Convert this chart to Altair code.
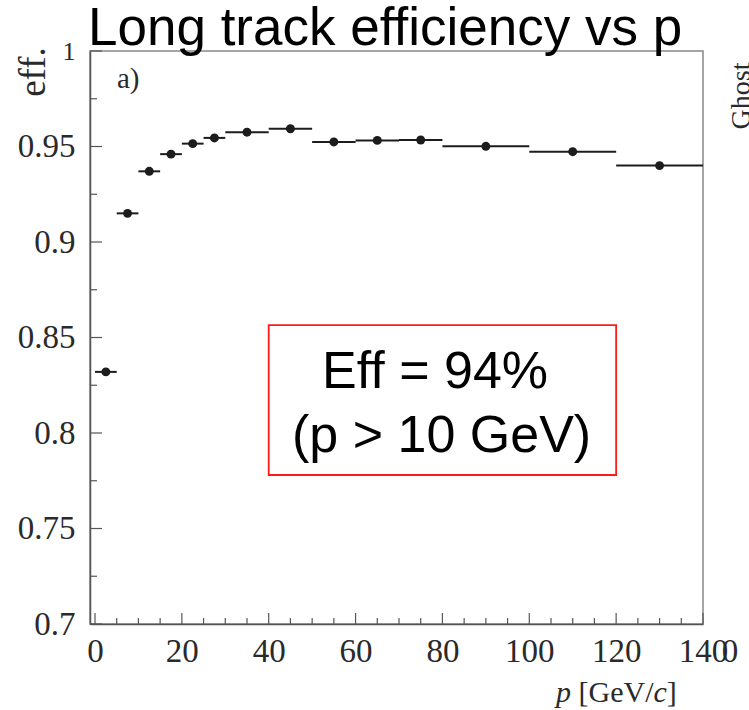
import altair as alt
import pandas as pd

# ---- data ----
p_lo = [0, 5, 10, 15, 20, 25, 30, 40, 50, 60, 70, 80, 100, 120]
p_hi = [5, 10, 15, 20, 25, 30, 40, 50, 60, 70, 80, 100, 120, 140]
p_mid = [2.5, 7.5, 12.5, 17.5, 22.5, 27.5, 35, 45, 55, 65, 75, 90, 110, 130]
eff = [0.832, 0.915, 0.937, 0.946, 0.9515, 0.9545, 0.9575, 0.9593,
       0.9524, 0.9532, 0.9534, 0.9501, 0.9473, 0.9400]

x_major = [0, 20, 40, 60, 80, 100, 120, 140]
x_minor = [5, 10, 15, 25, 30, 35, 45, 50, 55, 65, 70, 75, 85, 90, 95,
           105, 110, 115, 125, 130, 135]
y_major = [0.7, 0.75, 0.8, 0.85, 0.9, 0.95, 1.0]
y_minor = [0.725, 0.775, 0.825, 0.875, 0.925, 0.975]

box_p = [40, 120]
box_eff = [0.778, 0.8565]
box_lines = ["Eff = 94%", "(p > 10 GeV)"]
box_line_p = [78.3, 79.8]
box_line_eff = [0.8234, 0.790]

title_text = "Long track efficiency vs p"
ylab_text = "eff."
panel_text = "a)"
ghost_text = "Ghost"
xlab_parts = ["p", "[GeV/", "c", "]"]

W, H = 613, 573
SERIF = "Liberation Serif"
SANS = "Liberation Sans"
INK = "#1c1c1c"

xs = alt.Scale(domain=[-1.15, 140], nice=False, zero=False)
ys = alt.Scale(domain=[0.7, 1.0], nice=False, zero=False)

x_axis = alt.Axis(values=x_major, ticks=False, grid=False, domain=True,
                  domainColor="#555", domainWidth=1.5,
                  labelFont=SERIF, labelFontSize=33, labelColor="#2a2a2a",
                  labelPadding=11, labelFlush=False, labelOverlap=False,
                  labelBound=False, title=None)
y_axis = alt.Axis(values=y_major, ticks=False, grid=False, domain=True,
                  domainColor="#555", domainWidth=1.5, format="~g",
                  labelFont=SERIF,
                  labelFontSize={"condition": {"test": "datum.value == 1", "value": 26}, "value": 33},
                  labelColor="#2a2a2a", labelPadding=15, labelFlush=False,
                  labelOverlap=False, labelBound=False, title=None)

df = pd.DataFrame({"lo": p_lo, "hi": p_hi, "mid": p_mid, "eff": eff})

bars = alt.Chart(df).mark_rule(color=INK, strokeWidth=2).encode(
    x=alt.X("lo:Q", scale=xs, axis=x_axis),
    x2="hi:Q",
    y=alt.Y("eff:Q", scale=ys, axis=y_axis),
)
points = alt.Chart(df).mark_circle(size=80, color=INK, opacity=1).encode(
    x=alt.X("mid:Q", scale=xs, title=None),
    y=alt.Y("eff:Q", scale=ys, title=None),
)

def xticks(vals, length):
    return alt.Chart(pd.DataFrame({"v": vals})).mark_rule(color="#555", strokeWidth=1.2).encode(
        x=alt.X("v:Q", scale=xs, title=None),
        y=alt.value(H), y2=alt.value(H - length))

def yticks(vals, length):
    return alt.Chart(pd.DataFrame({"v": vals})).mark_rule(color="#555", strokeWidth=1.2).encode(
        y=alt.Y("v:Q", scale=ys, title=None),
        x=alt.value(0), x2=alt.value(length))

bdf = pd.DataFrame({"x1": [box_p[0]], "x2": [box_p[1]], "y1": [box_eff[0]], "y2": [box_eff[1]]})
box = alt.Chart(bdf).mark_rect(fill="white", fillOpacity=0, stroke="#ff1a1a", strokeWidth=1.8).encode(
    x=alt.X("x1:Q", scale=xs, title=None), x2="x2:Q",
    y=alt.Y("y1:Q", scale=ys, title=None), y2="y2:Q")

tdf = pd.DataFrame({"t": box_lines, "p": box_line_p, "e": box_line_eff})
box_text = alt.Chart(tdf).mark_text(font=SANS, fontSize=52, color="black",
                                     align="center", baseline="alphabetic").encode(
    x=alt.X("p:Q", scale=xs, title=None), y=alt.Y("e:Q", scale=ys, title=None), text="t:N")

def label(text, x, y, **kw):
    return alt.Chart(pd.DataFrame({"t": [text]})).mark_text(**kw).encode(
        text="t:N", x=alt.value(x), y=alt.value(y))

title = label(title_text, -2, -6, font=SANS, fontSize=53, color="black",
              align="left", baseline="alphabetic")
ylab = label(ylab_text, -45, 21, font=SERIF, fontSize=37, color="#2a2a2a",
             align="center", baseline="alphabetic", angle=270)
panel = label(panel_text, 27, 37, font=SERIF, fontSize=29, color="#2a2a2a",
              align="left", baseline="alphabetic")
ghost = label(ghost_text, 660, 45, font=SERIF, fontSize=28, color="#2a2a2a",
              align="center", baseline="alphabetic", angle=270)
extra0 = label("0", 640, 610.5, font=SERIF, fontSize=33, color="#2a2a2a",
               align="center", baseline="alphabetic")

xl_kw = dict(fontSize=30, color="#2a2a2a", align="left", baseline="alphabetic")
xl1 = label(xlab_parts[0], 466, 651, font=SERIF, fontStyle="italic", **xl_kw)
xl2 = label(xlab_parts[1], 488.5, 651, font=SERIF, **xl_kw)
xl3 = label(xlab_parts[2], 563.5, 651, font=SERIF, fontStyle="italic", **xl_kw)
xl4 = label(xlab_parts[3], 576.8, 651, font=SERIF, **xl_kw)

chart = alt.layer(
    bars, points,
    xticks(x_major, 11), xticks(x_minor, 6),
    yticks(y_major, 12), yticks(y_minor, 7),
    box, box_text, title, ylab, panel, ghost, extra0, xl1, xl2, xl3, xl4,
).properties(
    width=W, height=H,
    padding={"left": 90, "top": 51, "right": 46, "bottom": 86},
    autosize=alt.AutoSizeParams(type="none"),
    background="white",
).configure_view(stroke="#888", strokeWidth=1.5)

chart.save("out.html", embed_options={"renderer": "svg", "actions": False})
